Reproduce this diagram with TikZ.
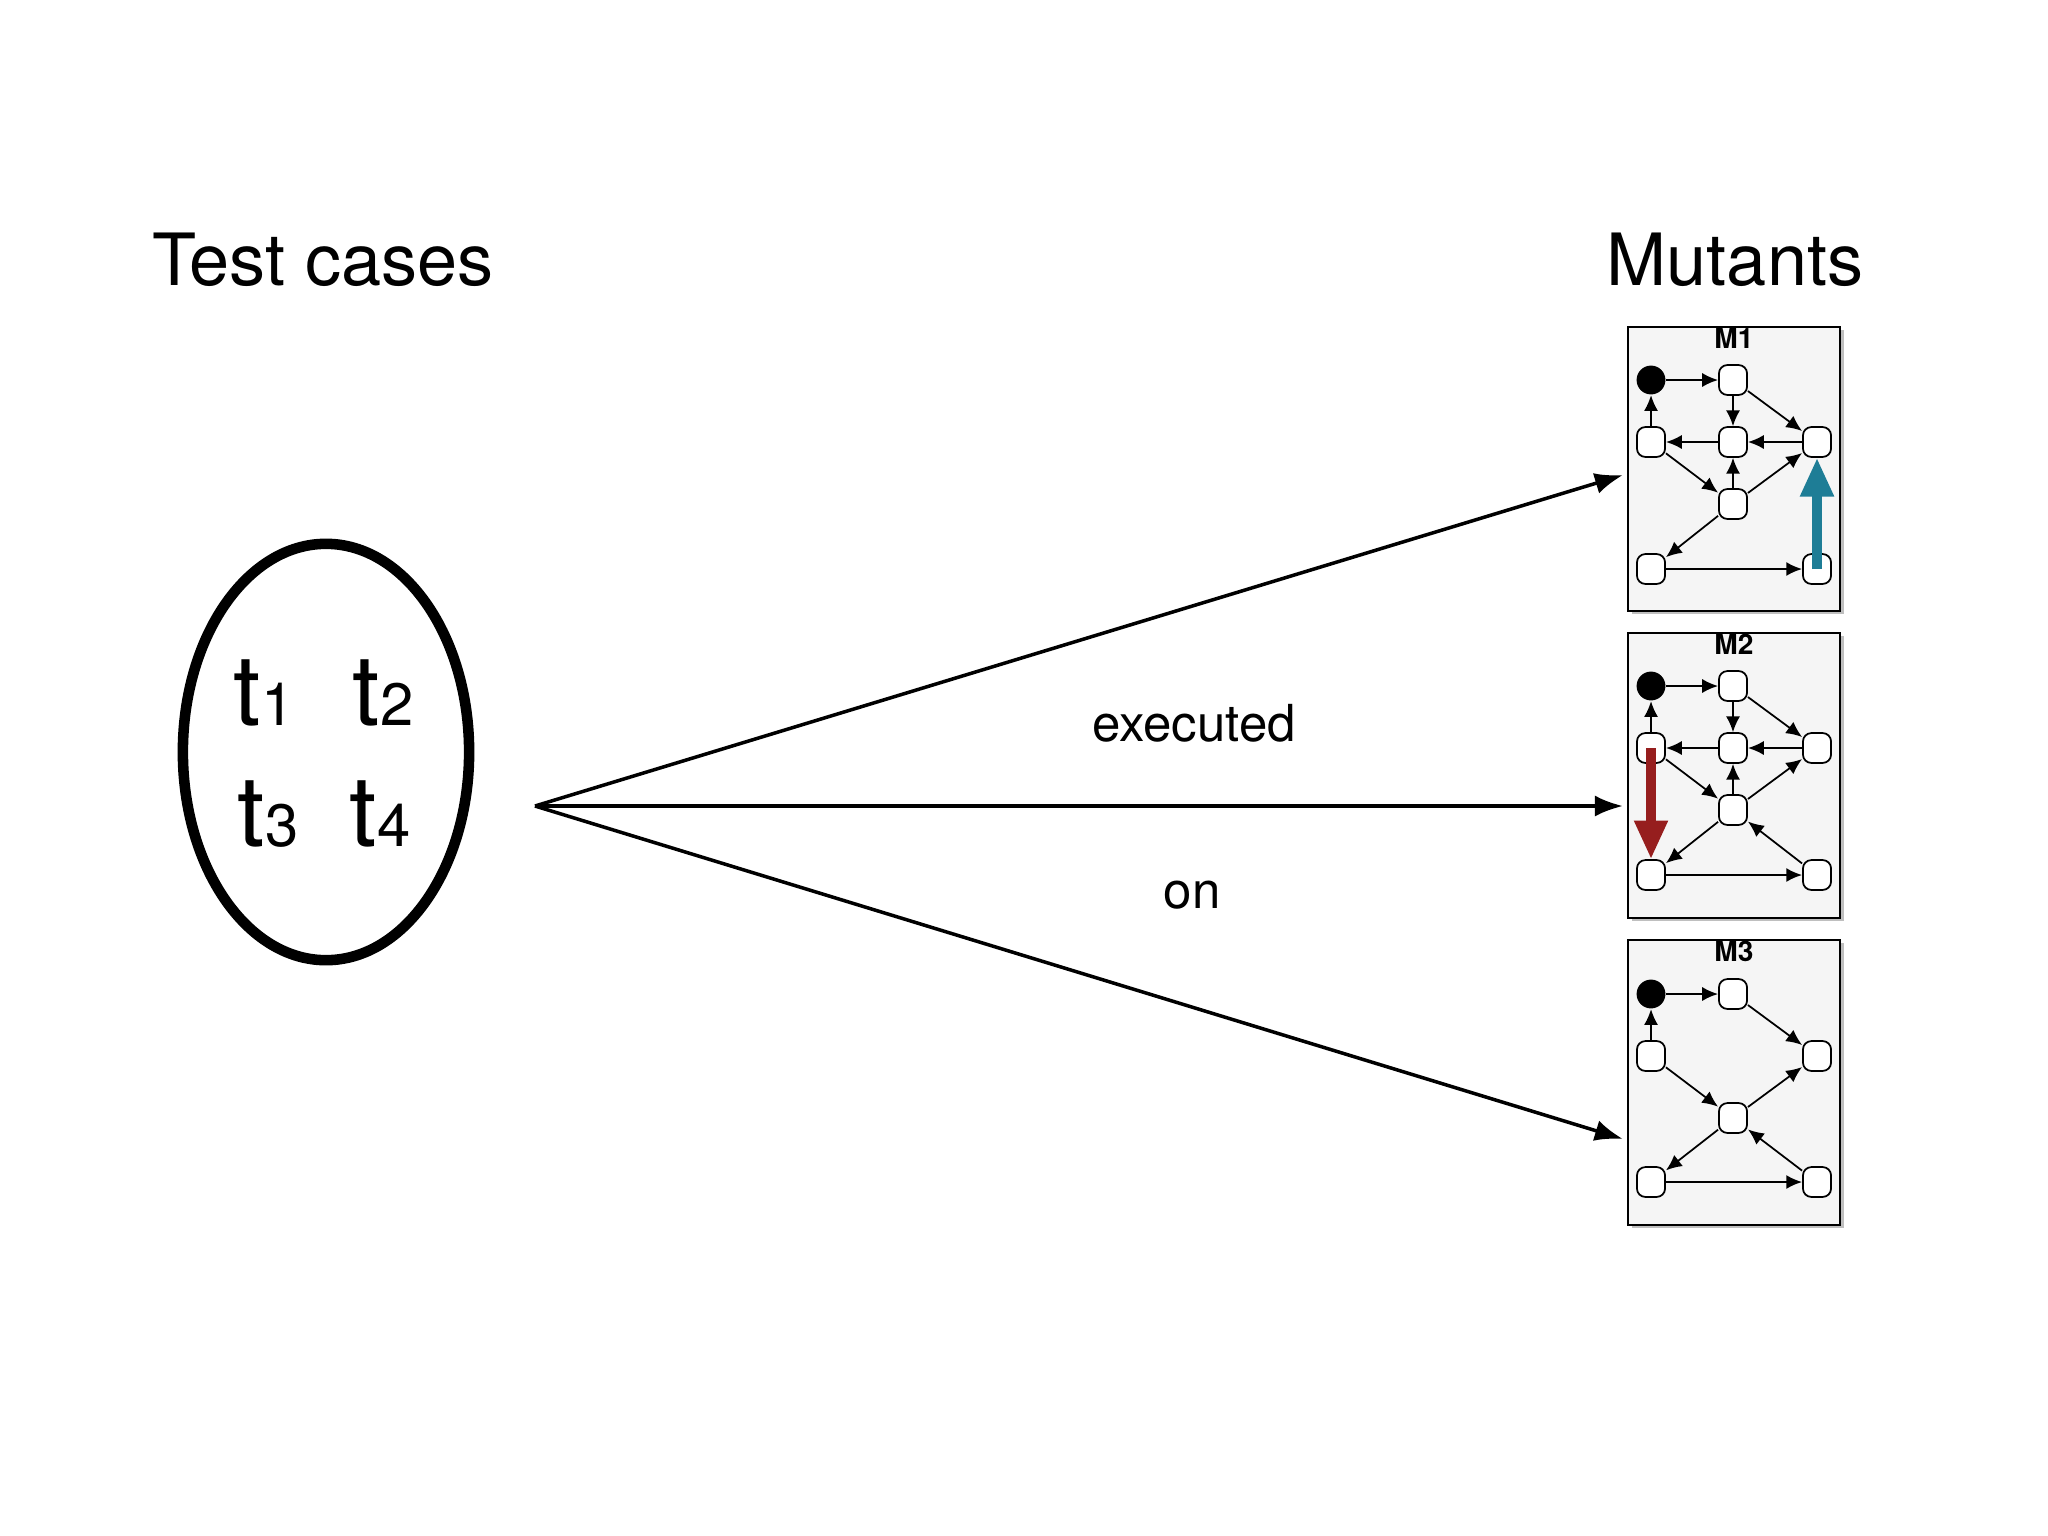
\documentclass[tikz,border=0pt]{standalone}
\usepackage{fontspec}
\setmainfont{TeX Gyre Heros}
\usetikzlibrary{arrows.meta,calc,shapes.geometric}
\begin{document}
\begin{tikzpicture}[x=0.01cm,y=-0.01cm,
  st/.style={draw,line width=0.5pt,fill=white,rounded corners=2.4pt,minimum width=8pt,minimum height=8.5pt,inner sep=0},
  ini/.style={circle,fill=black,minimum size=8.2pt,inner sep=0},
  e/.style={-{Latex[length=4.5pt,width=4pt]},line width=0.5pt},
  big/.style={-{Triangle[length=11pt,width=9pt]},line width=2.6pt},
  main/.style={-{Latex[length=8pt,width=6pt]},line width=1pt},
  box/.style={draw,line width=0.6pt,fill=gray!8},
  mtitle/.style={font=\bfseries\fontsize{8}{8}\selectfont}]
\useasboundingbox (0,0) rectangle (2048,1536);
\fill[white] (0,0) rectangle (2048,1536);
\node at (323,260) {\fontsize{20.5}{20.5}\selectfont Test cases};
\node at (1735,260) {\fontsize{20.5}{20.5}\selectfont Mutants};
\node[ellipse,draw,line width=3pt,minimum width=81.4pt,minimum height=118.4pt] (set) at (326,752) {};
\node[anchor=base] (t1) at (264,725) {\fontsize{28}{28}\selectfont t\fontsize{17}{17}\selectfont 1};
\node[anchor=base] (t2) at (383,725) {\fontsize{28}{28}\selectfont t\fontsize{17}{17}\selectfont 2};
\node[anchor=base] (t3) at (268,846) {\fontsize{28}{28}\selectfont t\fontsize{17}{17}\selectfont 3};
\node[anchor=base] (t4) at (380,846) {\fontsize{28}{28}\selectfont t\fontsize{17}{17}\selectfont 4};
% boxes
\fill[gray!50] (1632,330) rectangle (1844,614);
\draw[box] (1628,327) rectangle (1840,611);
\fill[gray!50] (1632,636) rectangle (1844,921);
\draw[box] (1628,633) rectangle (1840,918);
\fill[gray!50] (1632,943) rectangle (1844,1228);
\draw[box] (1628,940) rectangle (1840,1225);
\node[mtitle] at (1734,338) {M1};
\node[mtitle] at (1734,644) {M2};
\node[mtitle] at (1734,951) {M3};
% M1
\node[ini] (a0) at (1651,380) {};
\node[st] (a1) at (1733,380) {};
\node[st] (a2) at (1651,442) {};
\node[st] (a3) at (1733,442) {};
\node[st] (a4) at (1817,442) {};
\node[st] (a5) at (1733,504) {};
\node[st] (a6) at (1651,569) {};
\node[st] (a7) at (1817,569) {};
\draw[e] (a0)--(a1); \draw[e] (a1)--(a3); \draw[e] (a1)--(a4);
\draw[e] (a4)--(a3); \draw[e] (a3)--(a2); \draw[e] (a2)--(a0);
\draw[e] (a2)--(a5); \draw[e] (a5)--(a3); \draw[e] (a5)--(a4);
\draw[e] (a5)--(a6); \draw[e] (a6)--(a7);
\draw[big,color={rgb,255:red,30;green,125;blue,150}] (a7.center)--(a4.south);
% M2
\node[ini] (b0) at (1651,686) {};
\node[st] (b1) at (1733,686) {};
\node[st] (b2) at (1651,748) {};
\node[st] (b3) at (1733,748) {};
\node[st] (b4) at (1817,748) {};
\node[st] (b5) at (1733,810) {};
\node[st] (b6) at (1651,875) {};
\node[st] (b7) at (1817,875) {};
\draw[e] (b0)--(b1); \draw[e] (b1)--(b3); \draw[e] (b1)--(b4);
\draw[e] (b4)--(b3); \draw[e] (b3)--(b2); \draw[e] (b2)--(b0);
\draw[e] (b2)--(b5); \draw[e] (b5)--(b3); \draw[e] (b5)--(b4);
\draw[e] (b5)--(b6); \draw[e] (b6)--(b7); \draw[e] (b7)--(b5);
\draw[big,color={rgb,255:red,150;green,30;blue,30}] (b2.center)--(b6.north);
% M3
\node[ini] (c0) at (1651,994) {};
\node[st] (c1) at (1733,994) {};
\node[st] (c2) at (1651,1056) {};
\node[st] (c4) at (1817,1056) {};
\node[st] (c5) at (1733,1118) {};
\node[st] (c6) at (1651,1182) {};
\node[st] (c7) at (1817,1182) {};
\draw[e] (c0)--(c1); \draw[e] (c1)--(c4); \draw[e] (c2)--(c0);
\draw[e] (c2)--(c5); \draw[e] (c5)--(c4); \draw[e] (c5)--(c6);
\draw[e] (c6)--(c7); \draw[e] (c7)--(c5);
% main arrows
\coordinate (o) at (535,806);
\coordinate (e1) at (1623,475);
\coordinate (e2) at (1623,806);
\coordinate (e3) at (1623,1139);
\draw[main] (o)--(e1); \draw[main] (o)--(e2); \draw[main] (o)--(e3);
\node (ex) at (1194,723) {\fontsize{14.5}{14.5}\selectfont executed};
\node (on) at (1192,895) {\fontsize{14.5}{14.5}\selectfont on};
\end{tikzpicture}
\end{document}
